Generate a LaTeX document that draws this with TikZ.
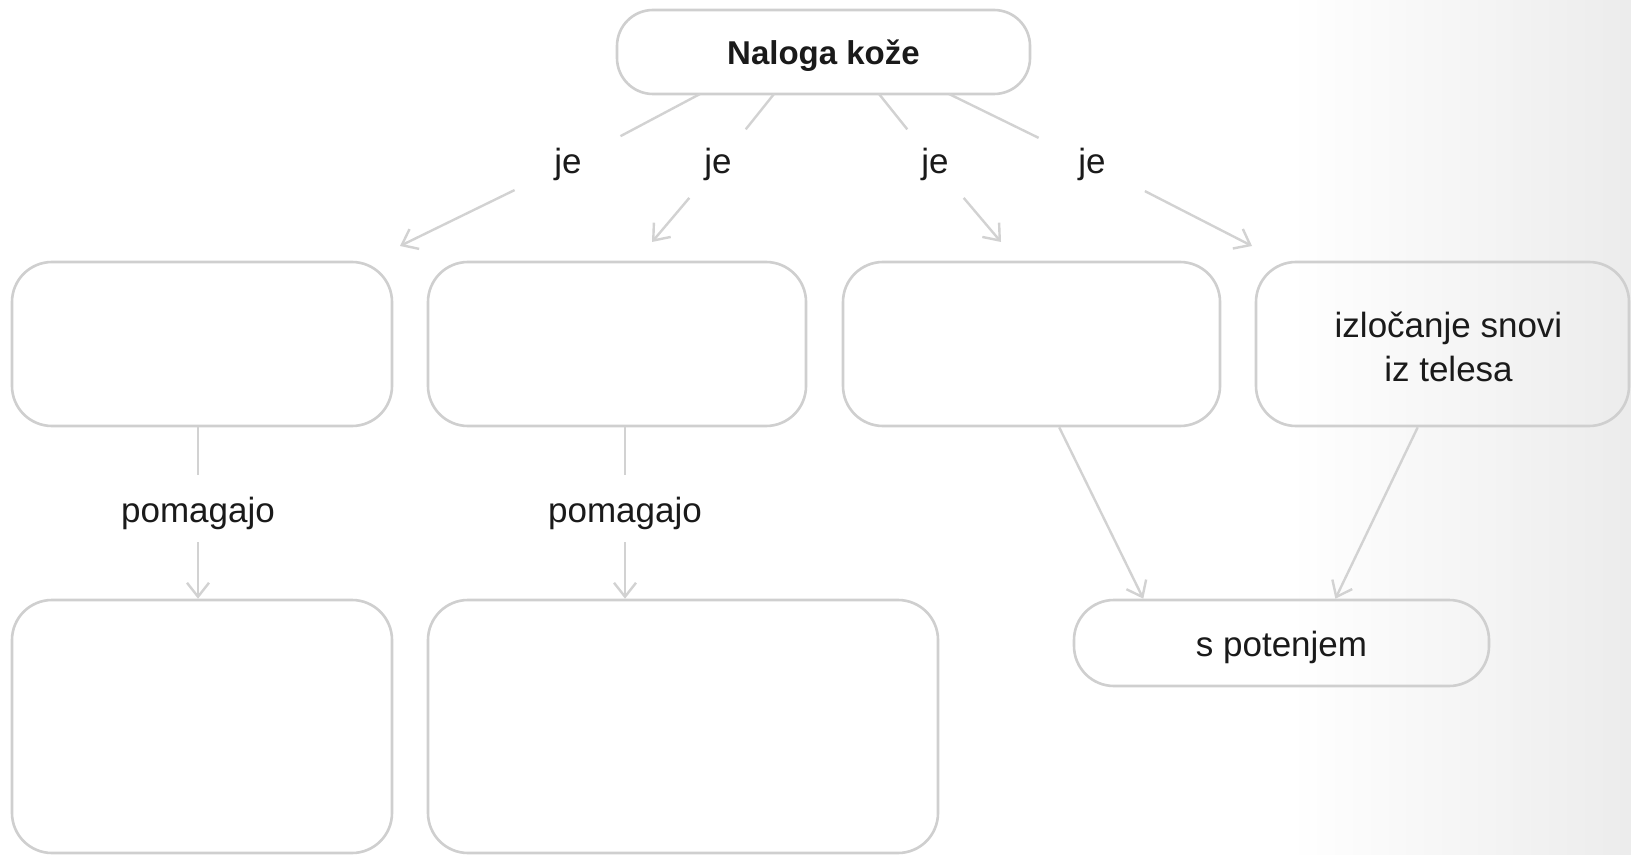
\documentclass[tikz,border=0pt]{standalone}
\usepackage{fontspec}
\setmainfont{Liberation Sans}
\usetikzlibrary{arrows.meta,calc}
\definecolor{boxline}{HTML}{CFCFCF}
\definecolor{connline}{HTML}{D2D2D2}
\definecolor{txt}{HTML}{1A1A1A}
\newcommand{\lowr}[2]{\raisebox{-#1}[\height][\depth]{#2}}
\begin{document}
\begin{tikzpicture}[x=0.5pt,y=-0.5pt,
  box/.style={draw=boxline,line width=1.3pt,rounded corners=20pt,inner sep=0pt,
     text=txt,align=center,font=\fontsize{17.5}{22}\selectfont},
  lab/.style={text=txt,font=\fontsize{17.5}{22}\selectfont,inner sep=0pt},
  conn/.style={draw=connline,line width=1.2pt},
  arr/.style={conn,-{Straight Barb[length=7pt,width=11pt,line width=1.2pt]}}]
\useasboundingbox (0,0) rectangle (1631,855);
\fill[white] (0,0) rectangle (1631,855);
\shade[left color=white,right color=gray!15] (1290,0) rectangle (1631,855);

% top node
\node[box,rounded corners=18pt,minimum width=206.5pt,minimum height=42pt,
      font=\fontsize{16.5}{20}\bfseries] (top) at (823.5,52) {\lowr{1.6pt}{Naloga kože}};

% row 1
\node[box,minimum width=190pt,minimum height=82pt] (b1) at (202,344) {};
\node[box,minimum width=189pt,minimum height=82pt] (b2) at (617,344) {};
\node[box,minimum width=188.5pt,minimum height=82pt] (b3) at (1031.5,344) {};
\node[box,minimum width=186.5pt,minimum height=82pt] (b4) at (1442.5,344)
  {\lowr{3.3pt}{\begin{tabular}{@{}c@{}}\hspace*{6pt}izločanje snovi\\\hspace*{6pt}iz telesa\end{tabular}}};

% row 2
\node[box,minimum width=190pt,minimum height=126.5pt] (b5) at (202,726.5) {};
\node[box,minimum width=255pt,minimum height=126.5pt] (b6) at (683,726.5) {};
\node[box,minimum width=207.5pt,minimum height=43pt] (b7) at (1281.5,643) {\lowr{2pt}{s potenjem}};

% "je" labels
\node[lab,circle,minimum size=59pt] (je1) at (568,164) {je};
\node[lab,circle,minimum size=44pt] (je2) at (718,164) {je};
\node[lab,circle,minimum size=44pt] (je3) at (935,164) {je};
\node[lab,circle,minimum size=59pt] (je4) at (1092,164) {je};

% connector start/end points
\coordinate (s1) at (700,94);
\coordinate (s2) at (774,94);
\coordinate (s3) at (879,94);
\coordinate (s4) at (949,94);
\coordinate (t1) at (400,246);
\coordinate (t2) at (652,242);
\coordinate (t3) at (1001,242);
\coordinate (t4) at (1252,246);

\draw[conn] (s1) -- (je1); \draw[arr] (je1) -- (t1);
\draw[conn] (s2) -- (je2); \draw[arr] (je2) -- (t2);
\draw[conn] (s3) -- (je3); \draw[arr] (je3) -- (t3);
\draw[conn] (s4) -- (je4); \draw[arr] (je4) -- (t4);

% pomagajo
\node[lab,minimum height=33.5pt] (p1) at (198,508.5) {\lowr{2.6pt}{pomagajo}};
\node[lab,minimum height=33.5pt] (p2) at (625,508.5) {\lowr{2.6pt}{pomagajo}};
\draw[conn] (b1.south -| p1) -- (p1);
\draw[arr] (p1) -- (p1 |- b5.north);
\draw[conn] (b2.south -| p2) -- (p2);
\draw[arr] (p2) -- (p2 |- b6.north);

% to s potenjem
\draw[arr] ($(b3.south west)!0.573!(b3.south east)$) -- ($(b7.north west)!0.169!(b7.north east)$);
\draw[arr] ($(b4.south west)!0.434!(b4.south east)$) -- ($(b7.north west)!0.629!(b7.north east)$);
\end{tikzpicture}
\end{document}
